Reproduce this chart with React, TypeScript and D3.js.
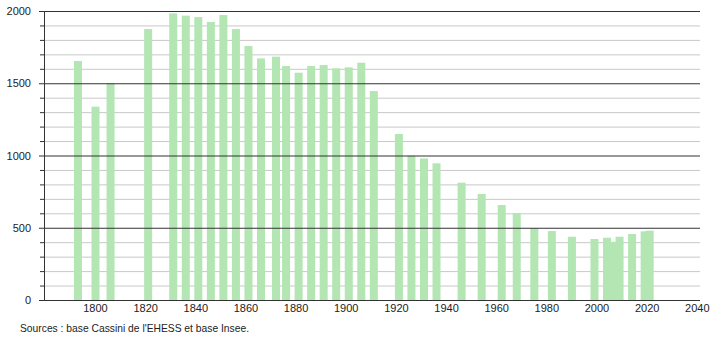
import React from "react";
import * as d3 from "d3";

const years = [1793, 1800, 1806, 1821, 1831, 1836, 1841, 1846, 1851, 1856, 1861, 1866, 1872, 1876, 1881, 1886, 1891, 1896, 1901, 1906, 1911, 1921, 1926, 1931, 1936, 1946, 1954, 1962, 1968, 1975, 1982, 1990, 1999, 2004, 2006, 2009, 2014, 2019, 2021];
const population = [1654, 1338, 1500, 1875, 1984, 1968, 1958, 1924, 1972, 1875, 1758, 1672, 1684, 1619, 1573, 1619, 1626, 1603, 1610, 1642, 1446, 1149, 999, 980, 946, 812, 734, 657, 600, 496, 477, 438, 422, 431, 403, 438, 457, 475, 480];
const xTicks = [1800, 1820, 1840, 1860, 1880, 1900, 1920, 1940, 1960, 1980, 2000, 2020, 2040];
const yMajor = [0, 500, 1000, 1500, 2000];
const yMinor = d3.range(100, 2000, 100).filter((v) => v % 500 !== 0);
const source = "Sources : base Cassini de l'EHESS et base Insee.";

export default function App() {
  const x = d3.scaleLinear().domain([1800, 2000]).range([95.5, 597]);
  const y = d3.scaleLinear().domain([0, 2000]).range([300, 11]);
  const left = 44;
  const right = 700;
  const barW = 8;
  const font = "'Liberation Sans', Arial, sans-serif";
  return (
    <svg width={710} height={340} style={{ position: "absolute", left: 0, top: 0, background: "#fff" }}>
      {yMinor.map((v) => (
        <g key={"mi" + v}>
          <line x1={left} x2={right} y1={y(v) + 0.5} y2={y(v) + 0.5} stroke="#c8c8c8" strokeWidth={1} />
          <line x1={left - 4} x2={left} y1={y(v) + 0.5} y2={y(v) + 0.5} stroke="#333" strokeWidth={1} />
        </g>
      ))}
      {years.map((yr, i) => (
        <rect key={yr} x={x(yr) - barW / 2} y={y(population[i])} width={barW} height={y(0) - y(population[i])} fill="#b3e6b3" />
      ))}
      {yMajor.map((v) => (
        <g key={"ma" + v}>
          <line x1={left - 5} x2={right} y1={y(v) + 0.5} y2={y(v) + 0.5} stroke="#333" strokeWidth={1} />
          <text x={31} y={y(v) + 4} textAnchor="end" fontFamily={font} fontSize={11} fill="#222">{v}</text>
        </g>
      ))}
      <line x1={left + 0.5} x2={left + 0.5} y1={y(2000)} y2={y(0)} stroke="#333" strokeWidth={1} />
      {xTicks.map((t) => (
        <text key={t} x={x(t)} y={312} textAnchor="middle" fontFamily={font} fontSize={11} fill="#222">{t}</text>
      ))}
      <text x={20} y={332} fontFamily={font} fontSize={10.5} textLength={229} lengthAdjust="spacingAndGlyphs" fill="#222">{source}</text>
    </svg>
  );
}
